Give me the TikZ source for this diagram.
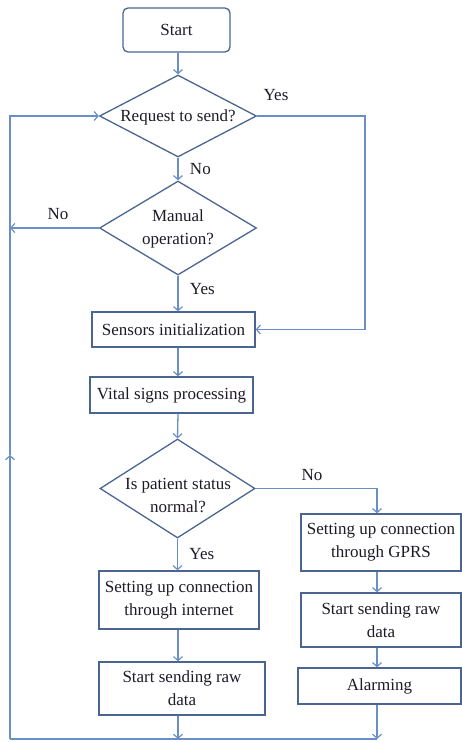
\documentclass[tikz,border=0pt]{standalone}
\usepackage{fontspec}
\setmainfont{Liberation Serif}
\usetikzlibrary{shapes.geometric,arrows.meta}
\definecolor{boxline}{HTML}{4A6592}
\definecolor{flowline}{HTML}{6A8FC6}
\definecolor{ink}{HTML}{1E1A26}
\begin{document}
\begin{tikzpicture}[x=1pt,y=-1pt,
  every node/.style={font=\fontsize{17}{23}\selectfont, text=ink},
  procbox/.style={draw=boxline, line width=1.3pt, rectangle, align=center, inner sep=0pt},
  decision/.style={draw=boxline, line width=1.3pt, diamond, inner sep=0pt},
  qtext/.style={align=center, inner sep=0pt},
  termbox/.style={draw=boxline, line width=1.3pt, rectangle, rounded corners=5pt, inner sep=0pt},
  flow/.style={draw=flowline, line width=1.3pt},
  arr/.style={flow, -{Straight Barb[length=4pt,width=9pt,line width=1.2pt]}},
  lbl/.style={font=\fontsize{17}{20}\selectfont}]
\useasboundingbox (0,0) rectangle (462,742);

% process steps
\node[termbox, minimum width=107pt, minimum height=44pt] (start) at (176.5,30) {Start};
\node[decision, minimum width=157pt, minimum height=82pt] (req) at (178,116) {};
\node[qtext] (reqt) at (178,117) {Request to send?};
\node[decision, minimum width=157pt, minimum height=94pt] (man) at (178,228) {};
\node[qtext] (mant) at (178,229) {Manual\\operation?};
\node[procbox, minimum width=163pt, minimum height=35pt] (sens) at (173.5,329.5) {Sensors initialization};
\node[procbox, minimum width=163pt, minimum height=36pt] (vital) at (171.5,395) {Vital signs processing};
\node[decision, minimum width=155pt, minimum height=99pt] (stat) at (177.5,488.5) {};
\node[qtext] (statt) at (178,495) {Is patient status\\normal?};
\node[procbox, minimum width=160pt, minimum height=58pt] (inet) at (179,600) {Setting up connection\\through internet};
\node[procbox, minimum width=166pt, minimum height=53pt] (sendL) at (182,688.5) {Start sending raw\\data};
\node[procbox, minimum width=160pt, minimum height=57pt] (gprs) at (381,542.5) {Setting up connection\\through GPRS};
\node[procbox, minimum width=160pt, minimum height=54pt] (sendR) at (381,620) {Start sending raw\\data};
\node[procbox, minimum width=163pt, minimum height=36pt] (alarm) at (379.5,686) {Alarming};

% routing points
\coordinate (bl) at (10,739);
\coordinate (br) at (377,739);
\coordinate (loopup) at (10,455);
\coordinate (tl) at (10,116);
\coordinate (yr) at (365,116);
\coordinate (nr) at (377,488.5);

% main column
\draw[arr] (start.south -| req.north) -- (req.north);
\draw[arr] (req.south) -- (man.north) node[lbl, midway, right=8pt] {No};
\draw[arr] (man.south) -- (man.south |- sens.north) node[lbl, pos=0.38, right=8pt] {Yes};
\draw[arr] (sens.south -| req.south) -- (req.south |- vital.north);
\draw[arr] (vital.south -| req.south) -- (stat.north);
\draw[arr] (stat.south) -- (stat.south |- inet.north) node[lbl, midway, right=8pt] {Yes};
\draw[arr] (inet.south -| req.south) -- (req.south |- sendL.north);
\draw[arr] (sendL.south -| req.south) -- (req.south |- bl);

% yes branch of the first decision
\draw[arr] (req.east) -- (yr) -- (yr |- sens.east) -- (sens.east);
\node[lbl] (yeslbl) at (276,95) {Yes};

% no branch of the manual decision
\draw[arr] (man.west) -- (man.west -| bl);
\node[lbl] (nolbl) at (58,214) {No};

% abnormal status branch
\draw[arr] (stat.east) -- (nr) -- (nr |- gprs.north);
\node[lbl] (nolbl2) at (312,475) {No};
\draw[arr] (gprs.south -| nr) -- (nr |- sendR.north);
\draw[arr] (sendR.south -| nr) -- (nr |- alarm.north);
\draw[arr] (alarm.south -| nr) -- (br);

% return loop
\draw[flow] (br) -- (bl);
\draw[arr] (bl) -- (loopup);
\draw[arr] (loopup) -- (tl) -- (req.west);
\end{tikzpicture}
\end{document}
